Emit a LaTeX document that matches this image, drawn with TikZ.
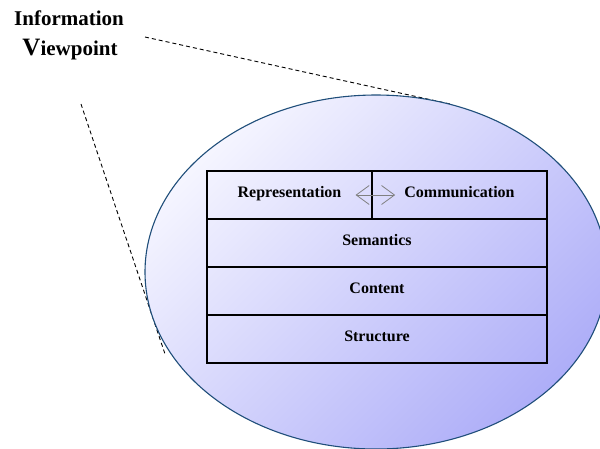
\documentclass[tikz,border=0pt]{standalone}
\usepackage{fontspec}
\setmainfont{Liberation Serif}
\usetikzlibrary{arrows.meta,positioning,shapes.geometric}
\definecolor{ellLight}{HTML}{F5F5FF}
\definecolor{ellDark}{HTML}{AEAEF8}
\definecolor{ellEdge}{HTML}{1F4E7A}
\definecolor{arrGray}{HTML}{808080}
\tikzset{
  layer/.style={draw=black, line width=1.1pt, minimum height=48pt, inner sep=0pt, outer sep=0pt},
  layertext/.style={font=\bfseries\fontsize{16}{18}\selectfont, inner sep=0pt, anchor=mid},
  titletext/.style={font=\bfseries\fontsize{21}{24}\selectfont, inner sep=0pt, anchor=base},
  sight/.style={draw=black, line width=0.9pt, dash pattern=on 4pt off 3pt},
  swap/.style={draw=arrGray, line width=0.8pt, {Straight Barb[length=13pt,width=19pt]}-{Straight Barb[length=13pt,width=19pt]}}
}
\begin{document}
\begin{tikzpicture}[x=1pt,y=-1pt]
\useasboundingbox (0,0) rectangle (600,448);
\clip (0,0) rectangle (600,448);

% viewing cone of the viewpoint
\coordinate (eyeA) at (145,37);
\coordinate (eyeB) at (81,104);
\coordinate (rimA) at (450,104);
\coordinate (rimB) at (165,354);
\draw[sight] (eyeA) -- (rimA);
\draw[sight] (eyeB) -- (rimB);

% shaded scope ellipse
\node[ellipse, draw=ellEdge, line width=1.1pt, minimum width=462pt, minimum height=354pt,
      shading=axis, top color=ellLight, bottom color=ellDark, shading angle=45,
      inner sep=0pt] (scope) at (376,272) {};

% layer stack
\node[layer, minimum width=165pt, anchor=north west] (rep) at (207,171) {};
\node[layer, minimum width=175pt, anchor=north west] (com) at (372,171) {};
\node[layer, minimum width=340pt, anchor=north west] (sem) at (207,219) {};
\node[layer, minimum width=340pt, anchor=north west] (con) at (207,267) {};
\node[layer, minimum width=340pt, anchor=north west] (str) at (207,315) {};

\node[layertext] (repT) at (rep.center) {Representation};
\node[layertext] (comT) at (com.center) {Communication};
\node[layertext] at (sem.center) {Semantics};
\node[layertext] at (con.center) {Content};
\node[layertext] at (str.center) {Structure};

\draw[swap, shorten <=14pt, shorten >=9pt] (repT.mid east) -- (comT.mid west);

% title
\node[titletext] (info) at (69,25) {Information};
\node[titletext] (view) at (70,55) {{\fontsize{25}{28}\selectfont V}iewpoint};
\end{tikzpicture}
\end{document}
